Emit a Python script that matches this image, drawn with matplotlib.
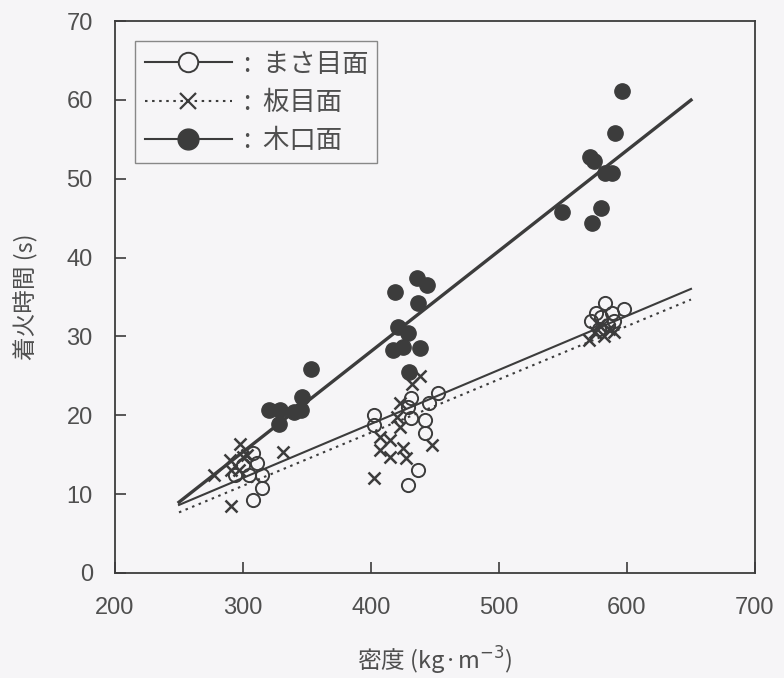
import numpy as np
import matplotlib
matplotlib.use("Agg")
import matplotlib.pyplot as plt
from matplotlib.lines import Line2D

plt.rcParams['font.family'] = ['Noto Sans CJK JP', 'DejaVu Sans']

# 木口面 (end grain) - filled circles
kiguchi_x = [320, 328, 329, 340, 345, 346, 353,
             417, 419, 421, 425, 429, 430, 436, 437, 438, 444,
             549, 571, 573, 574, 580, 583, 588, 591, 596]
kiguchi_y = [20.7, 18.9, 20.7, 20.4, 20.7, 22.3, 25.9,
             28.3, 35.6, 31.2, 28.7, 30.4, 25.5, 37.4, 34.2, 28.5, 36.5,
             45.8, 52.8, 44.4, 52.3, 46.3, 50.7, 50.7, 55.8, 61.1]

# まさ目面 (quarter-sawn) - open circles
masa_x = [294, 300, 305, 308, 308, 311, 315, 315,
          402, 402, 429, 429, 431, 431, 437, 442, 442, 445, 452,
          572, 576, 578, 580, 583, 585, 588, 590, 598]
masa_y = [12.4, 13.7, 12.4, 15.2, 9.3, 14.0, 12.4, 10.8,
          20.0, 18.8, 21.0, 11.2, 22.2, 19.7, 13.1, 19.4, 17.8, 21.6, 22.8,
          32.0, 33.0, 31.0, 32.5, 34.2, 31.5, 33.0, 32.0, 33.5]

# 板目面 (flat-sawn) - crosses
itame_x = [277, 290, 291, 291, 297, 298, 300, 303, 331,
           402, 407, 407, 415, 415, 420, 423, 423, 425, 427, 432, 438, 448,
           570, 575, 578, 582, 586, 590]
itame_y = [12.4, 14.3, 13.1, 8.5, 13.0, 16.4, 14.7, 15.0, 15.3,
           12.0, 17.2, 15.6, 16.9, 14.7, 19.8, 21.6, 18.5, 15.8, 14.6, 24.0, 25.0, 16.2,
           29.5, 30.5, 31.5, 30.0, 31.0, 30.5]

# regression lines: (slope, intercept) over the fitted density range
fit_range = [250, 650]
kiguchi_fit = (0.1275, -22.9)
masa_fit = (0.0685, -8.5)
itame_fit = (0.0675, -9.2)

bg = '#f6f5f7'
ink = '#3c3c3c'
txt = '#4f4f4f'
num_font = ['Liberation Sans', 'DejaVu Sans']

fig = plt.figure(figsize=(7.84, 6.78), dpi=100, facecolor=bg)
ax = fig.add_axes([0.1467, 0.155, 0.8163, 0.814], facecolor=bg)

xs = np.array(fit_range, dtype=float)
ax.plot(xs, kiguchi_fit[0] * xs + kiguchi_fit[1], color=ink, lw=2.4, zorder=2)
ax.plot(xs, masa_fit[0] * xs + masa_fit[1], color=ink, lw=1.5, zorder=2)
ax.plot(xs, itame_fit[0] * xs + itame_fit[1], color=ink, lw=1.5, ls=(0, (1.2, 2.2)), zorder=2)

ax.plot(masa_x, masa_y, ls='none', marker='o', ms=9.5, mfc='none', mec=ink, mew=1.4, zorder=3)
ax.plot(itame_x, itame_y, ls='none', marker='x', ms=9, mec=ink, mew=1.8, zorder=3)
ax.plot(kiguchi_x, kiguchi_y, ls='none', marker='o', ms=11, mfc=ink, mec=ink, zorder=4)

ax.set_xlim(200, 700)
ax.set_ylim(0, 70)
ax.set_xticks(range(200, 701, 100))
ax.set_yticks(range(0, 71, 10))
ax.tick_params(direction='in', length=8, width=1.2, color=ink, labelcolor=txt,
               labelsize=17)
ax.tick_params(axis='y', pad=16)
ax.tick_params(axis='x', pad=17)
for lab in ax.get_xticklabels() + ax.get_yticklabels():
    lab.set_family(num_font)
for sp in ax.spines.values():
    sp.set_color(ink)
    sp.set_linewidth(1.3)

ax.set_xlabel('密度 (kg·m$^{-3}$)', fontsize=17, color=txt, labelpad=19)
ax.set_ylabel('着火時間 (s)', fontsize=17, color=txt, labelpad=20)

handles = [
    Line2D([], [], color=ink, lw=1.5, marker='o', ms=14, mfc=bg, mec=ink, mew=1.4),
    Line2D([], [], color=ink, lw=1.5, ls=(0, (1.2, 2.2)), marker='x', ms=11, mec=ink, mew=1.6),
    Line2D([], [], color=ink, lw=1.5, marker='o', ms=15, mfc=ink, mec=ink),
]
leg = ax.legend(handles, [':  まさ目面', ':  板目面', ':  木口面'], loc='upper left',
                bbox_to_anchor=(0.032, 0.963), fontsize=19, handlelength=3.3,
                handletextpad=0.45, labelspacing=0.42, borderpad=0.35, borderaxespad=0.0,
                fancybox=False, framealpha=1, facecolor=bg, edgecolor='#888888')
leg.get_frame().set_linewidth(1.0)
for t in leg.get_texts():
    t.set_color(txt)

fig.savefig('out.png', dpi=100, facecolor=bg)
